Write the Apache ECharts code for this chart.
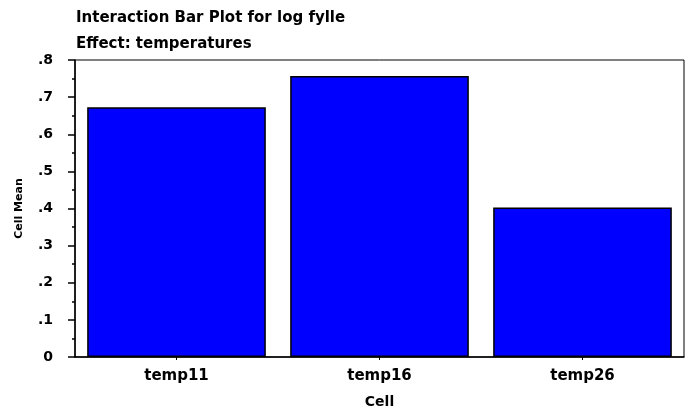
<!DOCTYPE html>
<html>
<head>
<meta charset="utf-8">
<script src="https://cdn.jsdelivr.net/npm/echarts@6/dist/echarts.min.js"></script>
<style>
html,body{margin:0;padding:0;background:#fff;}
#chart{width:686px;height:414px;}
</style>
</head>
<body>
<div id="chart"></div>
<script>
const titleLines = ['Interaction Bar Plot for log fylle', 'Effect: temperatures'];
const categories = ['temp11', 'temp16', 'temp26'];
const cellMeans = [0.673, 0.757, 0.403];
const yTicks = [0, 0.1, 0.2, 0.3, 0.4, 0.5, 0.6, 0.7, 0.8];
const xAxisName = 'Cell';
const yAxisName = 'Cell Mean';

const FONT = 'DejaVu Sans';
const chart = echarts.init(document.getElementById('chart'), null, {renderer: 'canvas'});
chart.setOption({
  backgroundColor: '#ffffff',
  animation: false,
  title: {
    text: titleLines.join('\n'),
    left: 76,
    top: 5,
    padding: 0,
    textStyle: {fontFamily: FONT, fontWeight: 'bold', fontSize: 15, lineHeight: 26, color: '#000'}
  },
  grid: {
    left: 75, right: 2, top: 60, bottom: 51,
    show: true, borderColor: '#000', borderWidth: 1, backgroundColor: 'transparent'
  },
  xAxis: {
    type: 'category',
    data: categories,
    name: xAxisName,
    nameLocation: 'middle',
    nameGap: 38,
    nameTextStyle: {fontFamily: FONT, fontWeight: 'bold', fontSize: 14, color: '#000'},
    axisLine: {show: true, lineStyle: {color: '#000', width: 1.5}},
    axisTick: {show: true, alignWithLabel: true, length: 3, lineStyle: {color: '#000'}},
    axisLabel: {fontFamily: FONT, fontWeight: 'bold', fontSize: 15, color: '#000', margin: 12}
  },
  yAxis: {
    type: 'value',
    min: yTicks[0],
    max: yTicks[yTicks.length - 1],
    interval: 0.1,
    name: yAxisName,
    nameLocation: 'middle',
    nameGap: 50,
    nameTextStyle: {fontFamily: FONT, fontWeight: 'bold', fontSize: 11, color: '#000'},
    axisLine: {show: true, lineStyle: {color: '#000', width: 1.5}},
    axisTick: {show: true, length: 7, lineStyle: {color: '#000', width: 1.5}},
    minorTick: {show: true, splitNumber: 2, length: 3, lineStyle: {color: '#000', width: 1.5}},
    splitLine: {show: false},
    axisLabel: {
      fontFamily: FONT, fontWeight: 'bold', fontSize: 14, color: '#000', margin: 22,
      formatter: v => (v === 0 ? '0' : v.toFixed(1).replace(/^0/, ''))
    }
  },
  series: [{
    type: 'bar',
    data: cellMeans,
    barCategoryGap: '12%',
    itemStyle: {color: '#0000ff', borderColor: '#000', borderWidth: 1.5}
  }]
});
</script>
</body>
</html>
